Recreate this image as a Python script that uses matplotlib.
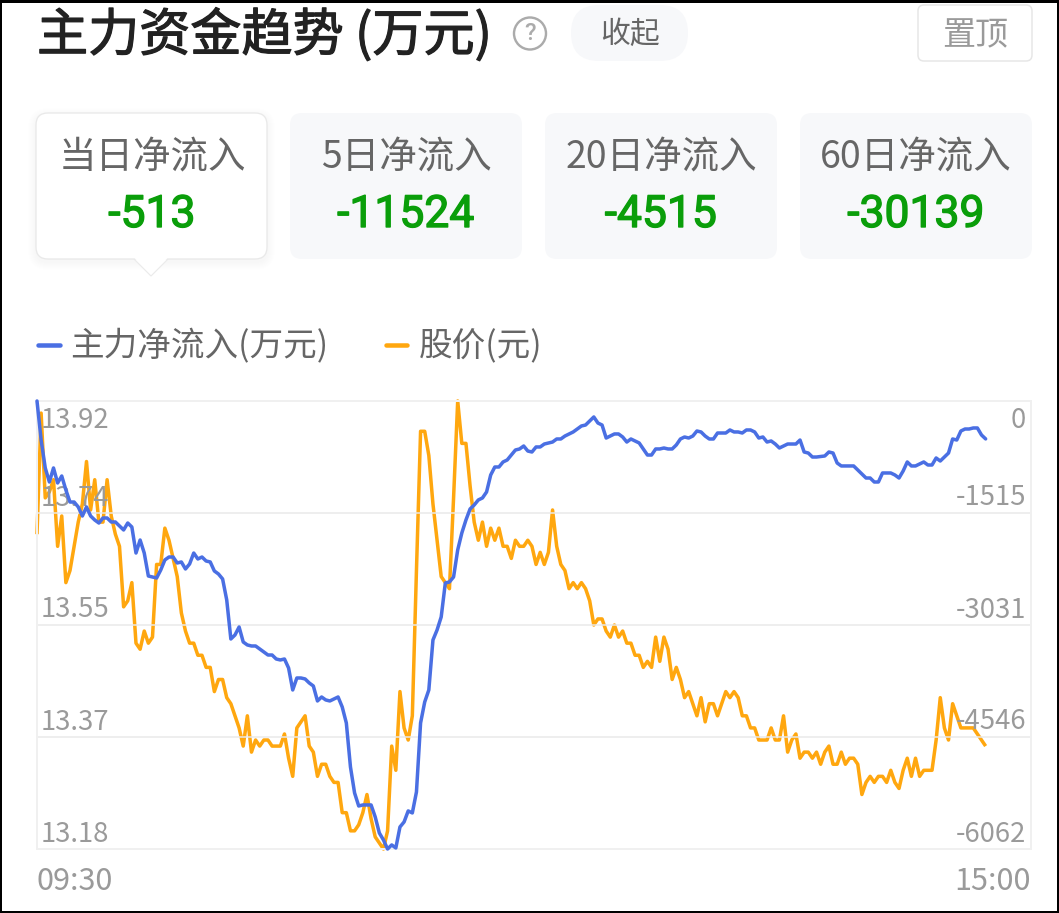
import numpy as np
import matplotlib
matplotlib.use("Agg")
import matplotlib.pyplot as plt
import matplotlib.patheffects as pe
from matplotlib.patches import FancyBboxPatch, Rectangle, Circle, Polygon
from matplotlib.lines import Line2D
from matplotlib.transforms import ScaledTranslation

plt.rcParams['font.family'] = ['Noto Sans CJK SC', 'DejaVu Sans']

# ---------- data ----------
flow = [0,-528,-906,-1096,-906,-1109,-1015,-1204,-1367,-1367,
 -1434,-1556,-1434,-1556,-1610,-1651,-1583,-1583,-1637,-1637,
 -1691,-1745,-1651,-1705,-2057,-1881,-2057,-2368,-2381,-2395,
 -2287,-2151,-2111,-2111,-2192,-2178,-2273,-2205,-2057,-2138,
 -2111,-2165,-2178,-2300,-2341,-2408,-2692,-3220,-3166,-3058,
 -3261,-3301,-3315,-3315,-3355,-3396,-3437,-3437,-3491,-3504,
 -3491,-3613,-3910,-3748,-3748,-3761,-3815,-3856,-4059,-4005,
 -4045,-4059,-4032,-4005,-4140,-4357,-4952,-5304,-5480,-5466,
 -5466,-5466,-5628,-5845,-5940,-6062,-6007,-6048,-5764,-5696,
 -5547,-5574,-5290,-4357,-4073,-3910,-3234,-3098,-2922,-2462,
 -2449,-2381,-2016,-1786,-1610,-1461,-1407,-1339,-1312,-1231,
 -1001,-893,-893,-825,-798,-731,-663,-649,-609,-677,
 -690,-622,-622,-582,-568,-555,-514,-514,-474,-446,
 -419,-379,-338,-325,-271,-216,-298,-325,-501,-474,
 -446,-446,-487,-555,-514,-541,-568,-649,-731,-731,
 -649,-649,-636,-649,-649,-595,-514,-487,-501,-474,
 -406,-419,-474,-514,-514,-433,-433,-433,-392,-419,
 -419,-433,-392,-392,-419,-501,-487,-555,-541,-582,
 -636,-609,-582,-582,-582,-528,-690,-704,-758,-758,
 -751,-744,-690,-704,-839,-879,-879,-879,-879,-934,
 -988,-1042,-1042,-1096,-1096,-974,-974,-974,-1001,-1042,
 -947,-825,-879,-879,-852,-825,-866,-866,-771,-812,
 -758,-704,-514,-528,-406,-379,-379,-365,-365,-460,
 -513]
price = [13.70,13.90,13.76,13.77,13.79,13.68,13.73,13.62,13.64,13.68,
 13.72,13.75,13.82,13.74,13.79,13.72,13.72,13.79,13.73,13.70,
 13.68,13.58,13.59,13.62,13.52,13.51,13.54,13.52,13.53,13.65,
 13.65,13.71,13.69,13.66,13.63,13.57,13.54,13.52,13.52,13.50,
 13.50,13.48,13.48,13.44,13.46,13.46,13.43,13.42,13.40,13.38,
 13.35,13.40,13.34,13.36,13.35,13.36,13.36,13.35,13.35,13.35,
 13.37,13.33,13.30,13.38,13.39,13.40,13.35,13.34,13.30,13.32,
 13.32,13.30,13.29,13.29,13.24,13.24,13.21,13.21,13.22,13.24,
 13.27,13.23,13.20,13.19,13.18,13.21,13.35,13.31,13.44,13.38,
 13.36,13.40,13.64,13.87,13.87,13.83,13.75,13.69,13.63,13.62,
 13.61,13.76,13.92,13.85,13.85,13.78,13.72,13.69,13.72,13.68,
 13.71,13.69,13.71,13.68,13.68,13.66,13.69,13.68,13.68,13.69,
 13.68,13.65,13.67,13.65,13.67,13.74,13.68,13.65,13.64,13.61,
 13.62,13.61,13.62,13.61,13.59,13.55,13.56,13.56,13.54,13.53,
 13.55,13.53,13.54,13.52,13.52,13.50,13.50,13.48,13.49,13.48,
 13.53,13.49,13.53,13.51,13.46,13.48,13.46,13.43,13.44,13.42,
 13.40,13.43,13.39,13.42,13.42,13.40,13.42,13.44,13.43,13.44,
 13.43,13.40,13.40,13.38,13.38,13.36,13.36,13.36,13.38,13.36,
 13.36,13.40,13.34,13.36,13.37,13.33,13.34,13.34,13.33,13.34,
 13.32,13.34,13.35,13.32,13.32,13.34,13.32,13.33,13.33,13.32,
 13.27,13.29,13.30,13.29,13.30,13.30,13.29,13.31,13.29,13.28,
 13.31,13.33,13.30,13.33,13.30,13.31,13.31,13.31,13.36,13.43,
 13.38,13.36,13.42,13.40,13.38,13.38,13.38,13.38,13.37,13.36,
 13.35]
minutes_total = 241
price_ticks = [13.92, 13.735, 13.55, 13.365, 13.18]
price_tick_labels = ['13.92', '13.74', '13.55', '13.37', '13.18']
flow_ticks = [0, -1515, -3031, -4546, -6062]
flow_tick_labels = ['0', '-1515', '-3031', '-4546', '-6062']
x_tick_labels = ['09:30', '15:00']
card_titles = ['当日净流入', '5日净流入', '20日净流入', '60日净流入']
card_values = ['-513', '-11524', '-4515', '-30139']
series_names = ['主力净流入(万元)', '股价(元)']
title_text = '主力资金趋势 (万元)'

# ---------- style ----------
W, H = 1059, 913
BLUE, ORANGE = '#4A6FE3', '#FFA70F'
GREEN = '#0A9E0A'
TICK = '#9A9A9A'
LABEL = '#666666'
CARD = '#F7F8FA'
px = 72 / 100  # points per pixel at dpi 100

fig = plt.figure(figsize=(W / 100, H / 100), dpi=100, facecolor='black')

ui = fig.add_axes([0, 0, 1, 1], zorder=0)
ui.set_xlim(0, W)
ui.set_ylim(H, 0)
ui.axis('off')
ui.add_patch(Rectangle((2, 3), W - 4, H - 5, fc='white', ec='none', zorder=0))


def rbox(x0, y0, x1, y1, r, fc, ec='none', lw=0, z=1, alpha=None):
    p = FancyBboxPatch((x0 + r, y0 + r), x1 - x0 - 2 * r, y1 - y0 - 2 * r,
                       boxstyle=f'round,pad={r},rounding_size={r}', fc=fc, ec=ec,
                       lw=lw * px, zorder=z, alpha=alpha)
    ui.add_patch(p)


# title row
t = ui.text(37, 36, title_text, fontsize=36.8, color='#222222', va='center', ha='left')
t.set_path_effects([pe.withStroke(linewidth=0.9, foreground='#222222')])
ui.add_patch(Circle((530, 33.5), 16, fc='none', ec='#ABABAB', lw=2.4 * px, zorder=2))
ui.text(530, 33, '?', fontsize=17, color='#ABABAB', ha='center', va='center',
        family=['Roboto', 'DejaVu Sans'], fontweight='medium')
rbox(571, 5, 688, 61, 28, CARD)
ui.text(630, 34.5, '收起', fontsize=21.5, color=LABEL, ha='center', va='center', zorder=3)
rbox(918, 5, 1032, 61, 6, 'white', ec='#E6E6E6', lw=1.5)
ui.text(975, 36, '置顶', fontsize=23.8, color='#9A9A9A', ha='center', va='center', zorder=3)

# cards
card_edges = [(36, 267), (290, 522), (545, 777), (800, 1032)]
card_centers = [152, 406, 661, 916]
for g in range(8, 0, -1):
    rbox(36 - g, 113 - g + 3, 267 + g, 259 + g + 3, 12 + g, '#000000', z=0.5, alpha=0.004)
ui.add_patch(Polygon([[133, 258], [151, 276], [169, 258]], closed=True, fc='white',
                     ec='#EBEBEB', lw=1.2 * px, zorder=1.1))
for i, (a, b) in enumerate(card_edges):
    if i == 0:
        rbox(a, 113, b, 259, 12, 'white', ec='#E9E9E9', lw=1.3, z=1.2)
        ui.add_patch(Polygon([[134.5, 258], [151, 274.5], [167.5, 258]], closed=True,
                             fc='white', ec='none', zorder=1.3))
    else:
        rbox(a, 113, b, 259, 12, CARD)
    ui.text(card_centers[i], 158, card_titles[i], fontsize=27, color=LABEL,
            ha='center', va='center', zorder=3)
    v = ui.text(card_centers[i], 215, card_values[i], fontsize=32, color=GREEN, ha='center',
                va='center', zorder=3, family=['Roboto', 'DejaVu Sans'])
    v.set_path_effects([pe.withStroke(linewidth=1.0, foreground=GREEN)])

# chart axes
L, R, T, B = 37, 1031, 401, 849
ax = fig.add_axes([L / W, 1 - B / H, (R - L) / W, (B - T) / H], zorder=2)
ax.patch.set_alpha(0)
minutes = np.arange(len(price))
ax.plot(minutes, price, color=ORANGE, lw=3.5 * px, solid_joinstyle='round',
        solid_capstyle='butt', clip_on=False, zorder=2)
ax.set_xlim(0, minutes_total)
ax.set_ylim(min(price_ticks), max(price_ticks))
ax.set_yticks(price_ticks, price_tick_labels)
ax.set_xticks([0, minutes_total], x_tick_labels)
ax.grid(axis='y', color='#E9E9E9', lw=1.5 * px, zorder=0)
ax.set_axisbelow(False)
ax.tick_params(axis='y', length=0, pad=-2.5, labelsize=19.8, labelcolor=TICK, direction='in')
ax.tick_params(axis='x', length=0, pad=12, labelsize=22, labelcolor=TICK)
xl = ax.get_xticklabels()
xl[0].set_ha('left')
xl[1].set_ha('right')

ax2 = ax.twinx()
ax2.patch.set_alpha(0)
ax2.plot(minutes, flow, color=BLUE, lw=3.5 * px, solid_joinstyle='round',
         solid_capstyle='round', clip_on=False, zorder=3)
ax2.set_ylim(min(flow_ticks), max(flow_ticks))
ax2.set_yticks(flow_ticks, flow_tick_labels)
ax2.tick_params(axis='y', length=0, pad=-3.5, labelsize=19.8, labelcolor=TICK, direction='in')

for a, ha in ((ax, 'left'), (ax2, 'right')):
    for i, lab in enumerate(a.get_yticklabels()):
        lab.set_ha(ha)
        lab.set_va('top' if i == 0 else 'bottom')
        dy = -6 if i == 0 else 1.5
        lab.set_transform(lab.get_transform() + ScaledTranslation(0, dy / 100, fig.dpi_scale_trans))
    for s in a.spines.values():
        s.set_color('#F0F0F0')
        s.set_linewidth(2 * px)

# legend
handles = [Line2D([], [], color=BLUE, lw=4.5 * px, solid_capstyle='round'),
           Line2D([], [], color=ORANGE, lw=4.5 * px, solid_capstyle='round')]
leg = ui.legend(handles, series_names, ncol=2, frameon=False, loc='center left',
                bbox_to_anchor=(38 / W, 1 - 347 / H), bbox_transform=fig.transFigure,
                fontsize=24.2, labelcolor=LABEL, borderpad=0, borderaxespad=0,
                handlelength=0.64, handletextpad=0.33, columnspacing=1.7)

fig.savefig('out.png', dpi=100, facecolor=fig.get_facecolor())
